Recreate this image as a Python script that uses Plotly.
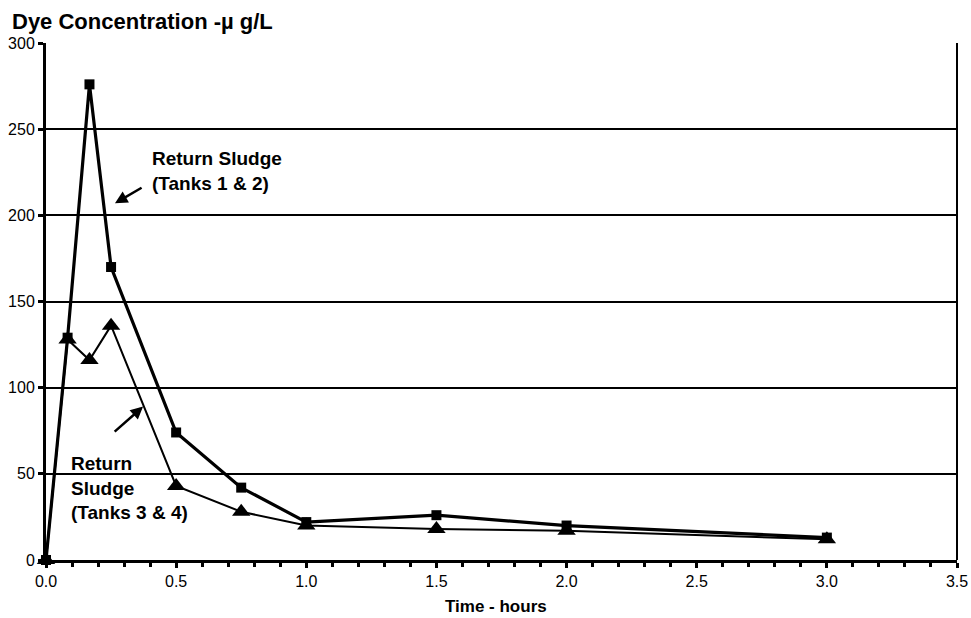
import plotly.graph_objects as go

time_12 = [0.0, 0.083, 0.167, 0.25, 0.5, 0.75, 1.0, 1.5, 2.0, 3.0]
conc_12 = [0, 129, 276, 170, 74, 42, 22, 26, 20, 13]
time_34 = [0.0, 0.083, 0.167, 0.25, 0.5, 0.75, 1.0, 1.5, 2.0, 3.0]
conc_34 = [0, 128, 116, 136, 43, 28, 20, 18, 17, 12]

x_ticks = [0.0, 0.5, 1.0, 1.5, 2.0, 2.5, 3.0, 3.5]
y_ticks = [0, 50, 100, 150, 200, 250, 300]

fig = go.Figure()
fig.add_trace(go.Scatter(x=time_12, y=conc_12, mode="lines+markers",
                         line=dict(color="black", width=3.2),
                         marker=dict(symbol="square", size=10, color="black"),
                         cliponaxis=False, showlegend=False))
fig.add_trace(go.Scatter(x=time_34, y=conc_34, mode="lines+markers",
                         line=dict(color="black", width=2),
                         marker=dict(symbol="triangle-up", size=16, color="black"),
                         cliponaxis=False, showlegend=False))

fig.update_layout(
    width=971, height=618,
    margin=dict(l=46, r=14, t=43, b=58, autoexpand=False),
    plot_bgcolor="white", paper_bgcolor="white",
    font=dict(family="Liberation Sans, Arial, sans-serif", color="black", size=16),
    xaxis=dict(range=[0, 3.5], tickvals=x_ticks, ticktext=[f"{v:.1f}" for v in x_ticks],
               showgrid=False, zeroline=False, showline=True, linecolor="black", linewidth=3,
               ticks="outside", ticklen=5, tickwidth=3, tickcolor="black", automargin=False,
               minor=dict(dtick=0.1, ticks="outside", ticklen=4, tickwidth=3, tickcolor="black"),
               tickfont=dict(size=16)),
    yaxis=dict(range=[0, 300], tickvals=y_ticks, automargin=False,
               showgrid=True, gridcolor="black", gridwidth=1.6, zeroline=False,
               showline=True, linecolor="black", linewidth=3,
               ticks="outside", ticklen=5, tickwidth=3, tickcolor="black",
               tickfont=dict(size=16)),
    shapes=[dict(type="line", xref="paper", yref="paper", x0=1, x1=1, y0=0, y1=1,
                 line=dict(color="black", width=2))],
    annotations=[
        dict(text="<b>Dye Concentration -µ g/L</b>", xref="paper", yref="paper",
             x=-36/911, y=1, xanchor="left", yanchor="bottom", yshift=7,
             showarrow=False, font=dict(size=22)),
        dict(text="<b>Time - hours</b>", xref="paper", yref="paper",
             x=0.494, y=0, xanchor="center", yanchor="top", yshift=-35,
             showarrow=False, font=dict(size=17)),
        dict(text="<b>Return Sludge<br>(Tanks 1 & 2)</b>", x=0.4, y=226, xanchor="left",
             yanchor="middle", align="left", showarrow=False, font=dict(size=19)),
        dict(text="", x=0.265, y=207, ax=0.373, ay=216.5, xref="x", yref="y",
             axref="x", ayref="y", showarrow=True, arrowhead=2, arrowsize=1,
             arrowwidth=2.5, arrowcolor="black"),
        dict(text="<b>Return<br>Sludge<br>(Tanks 3 & 4)</b>", x=0.089, y=42, xanchor="left",
             yanchor="middle", align="left", showarrow=False, font=dict(size=19)),
        dict(text="", x=0.373, y=89, ax=0.258, ay=73.7, xref="x", yref="y",
             axref="x", ayref="y", showarrow=True, arrowhead=2, arrowsize=1,
             arrowwidth=2.5, arrowcolor="black"),
    ],
)

fig.write_html("out.html")
